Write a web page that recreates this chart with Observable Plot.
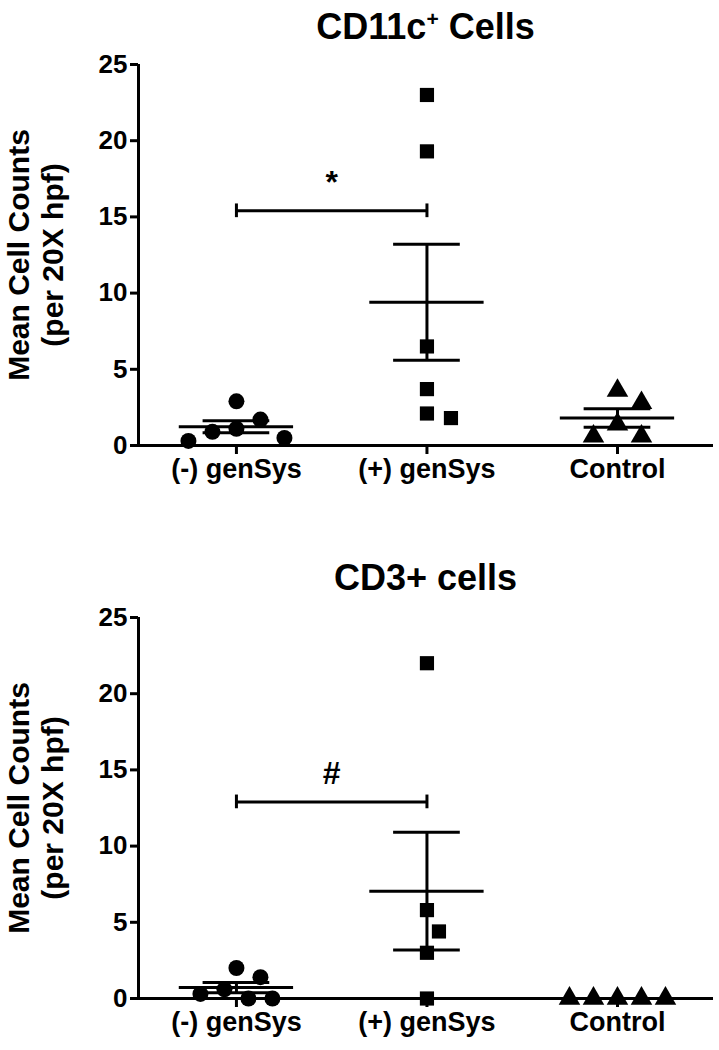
<!DOCTYPE html>
<html>
<head>
<meta charset="utf-8">
<script src="https://cdn.jsdelivr.net/npm/d3@7"></script>
<script src="https://cdn.jsdelivr.net/npm/@observablehq/plot@0.6"></script>
<style>
  html, body { margin: 0; padding: 0; background: #fff; }
  #page { position: relative; width: 719px; height: 1050px; overflow: hidden; font-family: "Liberation Sans", Arial, sans-serif; }
  .ttl { position: absolute; left: 138px; width: 575px; text-align: center; font-weight: bold; font-size: 36px; line-height: 40px; color: #000; }
  .ttl sup { font-size: 21px; vertical-align: 13px; line-height: 0; }
  .panel { position: absolute; left: 0; }
</style>
</head>
<body>
<div id="page">
  <div class="ttl" style="top:7px;">CD11c<sup>+</sup> Cells</div>
  <div id="p1" class="panel" style="top:45px;"></div>
  <div class="ttl" style="top:558px;">CD3+ cells</div>
  <div id="p2" class="panel" style="top:598px;"></div>
</div>
<script>
// ---- data ----
const groups = ["(-) genSys", "(+) genSys", "Control"];
const yTicks = [0, 5, 10, 15, 20, 25];
const yLabel = "Mean Cell Counts\n(per 20X hpf)";

// CD11c+ cells
const cd11cNeg  = [2.9, 1.7, 1.1, 0.9, 0.5, 0.3];
const cd11cPos  = [23.0, 19.3, 6.5, 3.7, 2.1, 1.8];
const cd11cCtrl = [3.6, 2.8, 1.4, 0.6, 0.6];

// CD3+ cells
const cd3Neg  = [2.0, 1.4, 0.6, 0.3, 0.0, 0.0];
const cd3Pos  = [22.0, 5.8, 4.4, 3.0, 0.0];
const cd3Ctrl = [0, 0, 0, 0, 0];

// significance brackets between (-) and (+) genSys
const sigY = [15.4, 12.9];
const sigLabels = ["*", "#"];

const symbols = ["circle", "square", "triangle"];

// ---- helpers: GraphPad-like scatter placement ----
const pxPerY = 381 / 25;
const pxPerX = 190.5;
const step = 12, minDist = 22;

function scatter(vals, gi) {
  const order = vals.map((v, k) => k).sort((a, b) => vals[b] - vals[a]);
  const placed = [];
  const out = new Array(vals.length);
  for (const k of order) {
    const yp = vals[k] * pxPerY;
    for (let j = 0; ; j++) {
      const off = j === 0 ? 0 : (j % 2 ? 1 : -1) * Math.ceil(j / 2) * step;
      if (placed.every(p => Math.hypot(p.x - off, p.y - yp) >= minDist)) {
        placed.push({x: off, y: yp}); out[k] = off; break;
      }
    }
  }
  return vals.map((v, k) => ({gi, value: v, x: gi + out[k] / pxPerX, symbol: symbols[gi]}));
}

function stats(vals, gi) {
  const m = d3.mean(vals);
  const s = vals.length > 1 ? d3.deviation(vals) / Math.sqrt(vals.length) : 0;
  return {gi, mean: m, lo: m - (s || 0), hi: m + (s || 0)};
}

function panel(series, sy, slabel, height, marginBottom) {
  const pts = series.flatMap((v, i) => scatter(v, i));
  const st = series.map((v, i) => stats(v, i));
  const xmin = -0.514;
  return Plot.plot({
    width: 719, height, marginLeft: 138, marginRight: 6, marginTop: 19, marginBottom,
    x: {domain: [xmin, 2.504], axis: null},
    y: {domain: [0, 25], axis: null},
    style: {fontFamily: "'Liberation Sans', Arial, sans-serif", fontWeight: "bold", fontSize: "24px", color: "#000", background: "#fff"},
    marks: [
      Plot.axisY(yTicks, {tickSize: 8, strokeWidth: 3, tickPadding: 3, fontSize: 26, fontWeight: "bold", label: null}),
      Plot.axisX([0, 1, 2], {tickSize: 9, strokeWidth: 3, tickPadding: 4, fontSize: 27, fontWeight: "bold", tickFormat: i => groups[i], label: null}),
      Plot.ruleY([0], {strokeWidth: 3}),
      Plot.ruleX([xmin], {y1: 0, y2: 25, strokeWidth: 3}),
      Plot.text([yLabel], {text: d => d, frameAnchor: "left", dx: -103, rotate: -90, fontSize: 30, fontWeight: "bold", lineHeight: 1.13, textAnchor: "middle"}),
      // significance bracket
      Plot.ruleY([sy], {x1: 0, x2: 1, strokeWidth: 3}),
      Plot.ruleX([0, 1], {y1: sy - 0.45, y2: sy + 0.45, strokeWidth: 3}),
      Plot.text([slabel], {x: 0.5, y: sy, dy: -28, fontSize: 32, fontWeight: "bold"}),
      // points
      Plot.dot(pts, {x: "x", y: "value", symbol: "symbol", r: 8, fill: "#000", stroke: "none"}),
      // mean and SEM
      Plot.ruleY(st, {y: "mean", x1: d => d.gi - 0.3, x2: d => d.gi + 0.3, strokeWidth: 3}),
      Plot.ruleX(st, {x: "gi", y1: "lo", y2: "hi", strokeWidth: 3}),
      Plot.ruleY(st, {y: "hi", x1: d => d.gi - 0.175, x2: d => d.gi + 0.175, strokeWidth: 3}),
      Plot.ruleY(st, {y: "lo", x1: d => d.gi - 0.175, x2: d => d.gi + 0.175, strokeWidth: 3})
    ]
  });
}

document.getElementById("p1").appendChild(panel([cd11cNeg, cd11cPos, cd11cCtrl], sigY[0], sigLabels[0], 460, 60));
document.getElementById("p2").appendChild(panel([cd3Neg, cd3Pos, cd3Ctrl], sigY[1], sigLabels[1], 452, 52));
</script>
</body>
</html>
